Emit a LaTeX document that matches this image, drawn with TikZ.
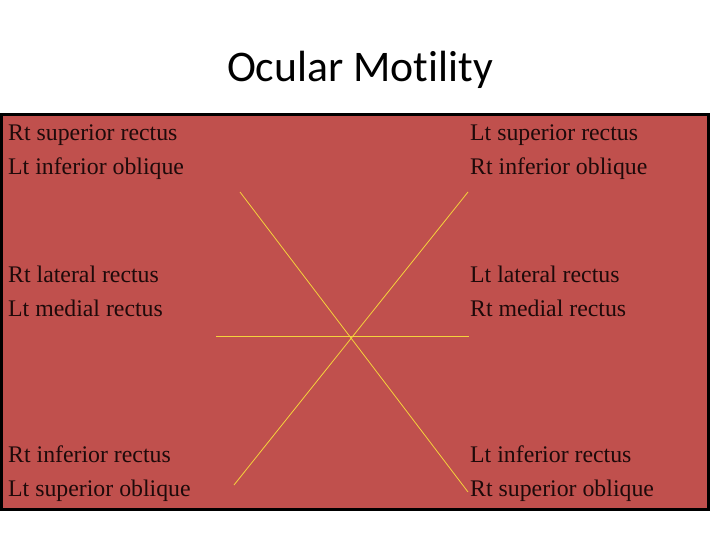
\documentclass[tikz,border=0pt]{standalone}
\usepackage{fontspec}
\setmainfont{Liberation Serif}
\newfontfamily\titlefont[Ligatures=NoCommon]{Carlito}
\usepackage{xcolor}
\usetikzlibrary{positioning,calc}

\definecolor{panelred}{HTML}{C0504D}
\definecolor{axisyellow}{HTML}{F5D33C}
\definecolor{labeldark}{HTML}{1E0A0A}

\begin{document}
\begin{tikzpicture}[x=1pt, y=-1pt,
    muscle/.style={anchor=base west, inner sep=0pt, align=left, text=labeldark,
        font=\fontsize{23.8}{34}\selectfont},
    axis/.style={axisyellow, line width=0.8pt}]
    \useasboundingbox (0,0) rectangle (720,540);
    \fill[white] (0,0) rectangle (720,540);

    \node[anchor=base, inner sep=0pt, font=\titlefont\fontsize{43.7}{50}\selectfont] (title) at (360,82)
        {Ocular Motility};

    \draw[fill=panelred, draw=black, line width=2.2pt] (1.5,114.5) rectangle (708.5,509.5);

    % gaze positions (base = last line)
    \node[muscle] (upright) at (8,175) {Rt superior rectus\\Lt inferior oblique};
    \node[muscle] (upleft) at (470,175) {Lt superior rectus\\Rt inferior oblique};
    \node[muscle] (right) at (8,316) {Rt lateral rectus\\Lt medial rectus};
    \node[muscle] (left) at (470,316) {Lt lateral rectus\\Rt medial rectus};
    \node[muscle] (downright) at (8,496) {Rt inferior rectus\\Lt superior oblique};
    \node[muscle] (downleft) at (470,496) {Lt inferior rectus\\Rt superior oblique};

    % the six arms
    \coordinate (ul) at (240,192);
    \coordinate (ur) at (468,192);
    \coordinate (ml) at (216,336);
    \coordinate (mr) at (469,336);
    \coordinate (ll) at (234,485);
    \coordinate (lr) at (468,492);

    \draw[axis] (ul) -- (lr);
    \draw[axis] (ur) -- (ll);
    \draw[axis] (ml) -- (mr);
\end{tikzpicture}
\end{document}
